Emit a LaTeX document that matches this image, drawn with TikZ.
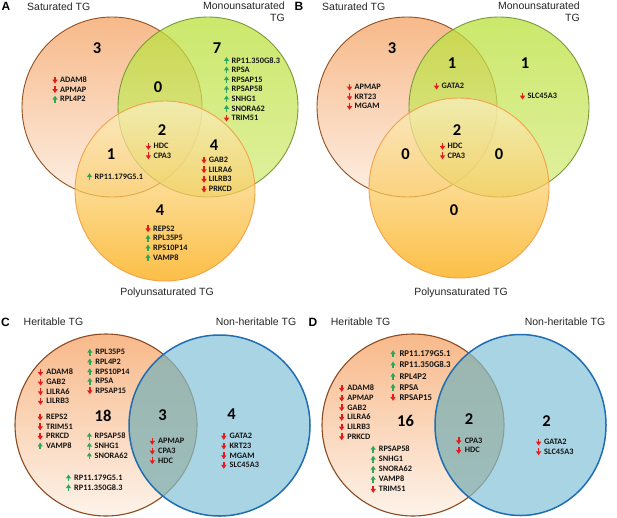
\documentclass[tikz,border=0pt]{standalone}
\usepackage{fontspec}
\setmainfont{Liberation Sans}
\newfontfamily\calfam{Carlito}
\usepackage{tikz}

\definecolor{sattop}{HTML}{F7B98A}
\definecolor{satbot}{HTML}{FDEFE3}
\definecolor{satline}{HTML}{94501F}
\definecolor{monotop}{HTML}{BAE03A}
\definecolor{monobot}{HTML}{D6EB80}
\definecolor{monoline}{HTML}{7A9A3A}
\definecolor{polytop}{HTML}{FBF1C6}
\definecolor{polybot}{HTML}{FBA600}
\definecolor{polyline}{HTML}{F3A24A}
\definecolor{hertop}{HTML}{F8B98A}
\definecolor{herbot}{HTML}{FDF3EA}
\definecolor{herline}{HTML}{8B4A1F}
\definecolor{nonfill}{HTML}{83C2D9}
\definecolor{nonline}{HTML}{1F6DB2}
\definecolor{lenstint}{HTML}{8DA690}
\definecolor{arrred}{HTML}{E31B1B}
\definecolor{arrgreen}{HTML}{2CA65A}
\definecolor{genetext}{HTML}{141414}
\definecolor{titletext}{HTML}{262626}

\tikzset{
  gene/.style={font=\calfam\bfseries\fontsize{8.3}{8.3}\selectfont, anchor=west, inner sep=0pt, text height=5.3pt, text depth=0pt, text=genetext},
  genebig/.style={gene, font=\calfam\bfseries\fontsize{8.8}{8.8}\selectfont, text height=5.7pt},
  count/.style={font=\calfam\bfseries\fontsize{16.5}{16.5}\selectfont, inner sep=0pt, text height=10.4pt, text depth=0pt},
  setname/.style={font=\fontsize{10.5}{10.5}\selectfont, inner sep=0pt, text height=7.6pt, text depth=0pt, text=titletext},
  panel/.style={font=\bfseries\fontsize{12}{12}\selectfont, inner sep=0pt, text height=8.6pt, text depth=0pt},
  vennline/.style={line width=0.9pt},
  dnarr/.pic={
    \fill[arrred] (-0.8,-3.3) rectangle (0.8,0);
    \fill[arrred] (-2.7,-0.4) -- (2.7,-0.4) -- (0,3.5) -- cycle;
  },
  uparr/.pic={
    \fill[arrgreen] (-0.75,3.3) rectangle (0.75,0);
    \fill[arrgreen] (-2.6,0.4) -- (2.6,0.4) -- (0,-3.5) -- cycle;
  },
}

\begin{document}
\begin{tikzpicture}[x=1pt, y=-1pt]
\useasboundingbox (0,0) rectangle (617,517);

% panel A: circles
\coordinate (A-sat) at (112,107);
\coordinate (A-mono) at (208,107);
\coordinate (A-poly) at (165,191);
\shade[top color=sattop, bottom color=satbot] (A-sat) circle (90pt);
\draw[satline, vennline] (A-sat) circle (90pt);
\shade[top color=monotop, bottom color=monobot, fill opacity=0.75] (A-mono) circle (90pt);
\draw[monoline, vennline] (A-mono) circle (90pt);
\shade[top color=polytop, bottom color=polybot, fill opacity=0.72] (A-poly) circle (90pt);
\draw[polyline, vennline] (A-poly) circle (90pt);

% panel A: texts
\node[panel] (A-tag) at (6,6) {A};
\node[setname, anchor=west] (A-satname) at (27,7) {Saturated TG};
\node[setname, anchor=east] (A-mononame) at (285,6) {Monounsaturated};
\node[setname, anchor=east] (A-mononame2) at (285,18) {TG};
\node[setname] (A-polyname) at (167,292) {Polyunsaturated TG};
\node[count] (A-cS) at (97,48) {3};
\node[count] (A-cSM) at (158,87) {0};
\node[count] (A-cM) at (217,48) {7};
\node[count] (A-cSMP) at (162,130) {2};
\node[count] (A-cSP) at (111,154) {1};
\node[count] (A-cMP) at (214,145) {4};
\node[count] (A-cP) at (160,210) {4};
\pic at (55,80) {dnarr}; \node[gene] (A-adam8) at (60,80) {ADAM8};
\pic at (55,89.5) {dnarr}; \node[gene] (A-apmap) at (60,89.5) {APMAP};
\pic at (55,99.2) {uparr}; \node[gene] (A-rpl4p2) at (60,99.2) {RPL4P2};
\pic at (226.5,60.5) {uparr}; \node[gene] (A-rp11350) at (231.5,60.5) {RP11.350G8.3};
\pic at (226.5,70) {uparr}; \node[gene] (A-rpsa) at (231.5,70) {RPSA};
\pic at (226.5,79.7) {uparr}; \node[gene] (A-rpsap15) at (231.5,79.7) {RPSAP15};
\pic at (226.5,89.3) {uparr}; \node[gene] (A-rpsap58) at (231.5,89.3) {RPSAP58};
\pic at (226.5,99) {uparr}; \node[gene] (A-snhg1) at (231.5,99) {SNHG1};
\pic at (226.5,108.5) {uparr}; \node[gene] (A-snora62) at (231.5,108.5) {SNORA62};
\pic at (226.5,118) {dnarr}; \node[gene] (A-trim51) at (231.5,118) {TRIM51};
\pic at (148.4,146.3) {dnarr}; \node[gene] (A-hdc) at (153.5,146.3) {HDC};
\pic at (148.4,155.7) {dnarr}; \node[gene] (A-cpa3) at (153.5,155.7) {CPA3};
\pic at (89.5,176.7) {uparr}; \node[gene] (A-rp11179) at (94.5,176.7) {RP11.179G5.1};
\pic at (204,160) {dnarr}; \node[gene] (A-gab2) at (208.7,160) {GAB2};
\pic at (204,169.7) {dnarr}; \node[gene] (A-lilra6) at (208.7,169.7) {LILRA6};
\pic at (204,179.3) {dnarr}; \node[gene] (A-lilrb3) at (208.7,179.3) {LILRB3};
\pic at (204,189) {dnarr}; \node[gene] (A-prkcd) at (208.7,189) {PRKCD};
\pic at (148,228.7) {dnarr}; \node[gene] (A-reps2) at (153,228.7) {REPS2};
\pic at (148,238.3) {uparr}; \node[gene] (A-rpl35p5) at (153,238.3) {RPL35P5};
\pic at (148,248) {uparr}; \node[gene] (A-rps10p14) at (153,248) {RPS10P14};
\pic at (148,257.7) {uparr}; \node[gene] (A-vamp8) at (153,257.7) {VAMP8};

% panel B: circles
\coordinate (B-sat) at (407,107);
\coordinate (B-mono) at (499,107);
\coordinate (B-poly) at (459,188);
\shade[top color=sattop, bottom color=satbot] (B-sat) circle (90pt);
\draw[satline, vennline] (B-sat) circle (90pt);
\shade[top color=monotop, bottom color=monobot, fill opacity=0.75] (B-mono) circle (90pt);
\draw[monoline, vennline] (B-mono) circle (90pt);
\shade[top color=polytop, bottom color=polybot, fill opacity=0.72] (B-poly) circle (90pt);
\draw[polyline, vennline] (B-poly) circle (90pt);

% panel B: texts
\node[panel] (B-tag) at (299,6) {B};
\node[setname, anchor=west] (B-satname) at (322,7) {Saturated TG};
\node[setname, anchor=east] (B-mononame) at (580,6) {Monounsaturated};
\node[setname, anchor=east] (B-mononame2) at (580,18) {TG};
\node[setname] (B-polyname) at (461,292) {Polyunsaturated TG};
\node[count] (B-cS) at (392,48) {3};
\node[count] (B-cSM) at (452,63) {1};
\node[count] (B-cM) at (525,63) {1};
\node[count] (B-cSMP) at (457,130) {2};
\node[count] (B-cSP) at (405.5,154) {0};
\node[count] (B-cMP) at (499,154) {0};
\node[count] (B-cP) at (454,210) {0};
\pic at (349.5,87) {dnarr}; \node[gene] (B-apmap) at (354.5,87) {APMAP};
\pic at (349.5,96.7) {dnarr}; \node[gene] (B-krt23) at (354.5,96.7) {KRT23};
\pic at (349.5,106.3) {dnarr}; \node[gene] (B-mgam) at (354.5,106.3) {MGAM};
\pic at (436.5,86) {dnarr}; \node[gene] (B-gata2) at (441.5,86) {GATA2};
\pic at (522.5,96) {dnarr}; \node[gene] (B-slc45a3) at (527.5,96) {SLC45A3};
\pic at (442.5,146.3) {dnarr}; \node[gene] (B-hdc) at (447.5,146.3) {HDC};
\pic at (442.5,155.7) {dnarr}; \node[gene] (B-cpa3) at (447.5,155.7) {CPA3};

% panel C: circles
\coordinate (C-her) at (106,425);
\coordinate (C-non) at (219.5,425.5);
\shade[top color=hertop, bottom color=herbot] (C-her) circle (91pt);
\draw[herline, line width=1.1pt] (C-her) circle (91pt);
\fill[nonfill, fill opacity=0.7] (C-non) circle (90.5pt);
\begin{scope}
  \clip (C-her) circle (91pt);
  \fill[lenstint, fill opacity=0.4] (C-non) circle (90.5pt);
\end{scope}
\draw[nonline, line width=1.5pt] (C-non) circle (90.5pt);

% panel C: texts
\node[panel] (C-tag) at (5.5,322.5) {C};
\node[setname, anchor=west] (C-hername) at (23.5,322) {Heritable TG};
\node[setname, anchor=east] (C-nonname) at (296.5,322) {Non-heritable TG};
\node[count] (C-cH) at (103,416.7) {18};
\node[count] (C-cHN) at (162.6,415.7) {3};
\node[count] (C-cN) at (231.5,414.3) {4};
\pic at (89.8,352.3) {uparr}; \node[gene] (C-rpl35p5) at (95.2,352.3) {RPL35P5};
\pic at (89.8,362) {uparr}; \node[gene] (C-rpl4p2) at (95.2,362) {RPL4P2};
\pic at (89.8,371.7) {uparr}; \node[gene] (C-rps10p14) at (95.2,371.7) {RPS10P14};
\pic at (89.8,381.3) {uparr}; \node[gene] (C-rpsa) at (95.2,381.3) {RPSA};
\pic at (89.8,390.7) {dnarr}; \node[gene] (C-rpsap15) at (95.2,390.7) {RPSAP15};
\pic at (40.5,372.3) {dnarr}; \node[gene] (C-adam8) at (46.2,372.3) {ADAM8};
\pic at (40.5,382) {dnarr}; \node[gene] (C-gab2) at (46.2,382) {GAB2};
\pic at (40.5,391.7) {dnarr}; \node[gene] (C-lilra6) at (46.2,391.7) {LILRA6};
\pic at (40.5,401.3) {dnarr}; \node[gene] (C-lilrb3) at (46.2,401.3) {LILRB3};
\pic at (40.2,417) {dnarr}; \node[gene] (C-reps2) at (46,417) {REPS2};
\pic at (40.2,426.7) {dnarr}; \node[gene] (C-trim51) at (46,426.7) {TRIM51};
\pic at (40.2,436.3) {dnarr}; \node[gene] (C-prkcd) at (46,436.3) {PRKCD};
\pic at (40.2,446) {uparr}; \node[gene] (C-vamp8) at (46,446) {VAMP8};
\pic at (89.4,436.3) {uparr}; \node[gene] (C-rpsap58) at (94.5,436.3) {RPSAP58};
\pic at (89.4,446.2) {uparr}; \node[gene] (C-snhg1) at (94.5,446.2) {SNHG1};
\pic at (89.4,456) {uparr}; \node[gene] (C-snora62) at (94.5,456) {SNORA62};
\pic at (68.5,478) {uparr}; \node[gene] (C-rp11179) at (74,478) {RP11.179G5.1};
\pic at (68.5,487.7) {uparr}; \node[gene] (C-rp11350) at (74,487.7) {RP11.350G8.3};
\pic at (152.3,441.3) {dnarr}; \node[gene] (C-apmap) at (158,441.3) {APMAP};
\pic at (152.3,451) {dnarr}; \node[gene] (C-cpa3) at (158,451) {CPA3};
\pic at (152.3,460.7) {dnarr}; \node[gene] (C-hdc) at (158,460.7) {HDC};
\pic at (223.8,436.3) {dnarr}; \node[gene] (C-gata2) at (229.5,436.3) {GATA2};
\pic at (223.8,446) {dnarr}; \node[gene] (C-krt23) at (229.5,446) {KRT23};
\pic at (223.8,455.7) {dnarr}; \node[gene] (C-mgam) at (229.5,455.7) {MGAM};
\pic at (223.8,465.3) {dnarr}; \node[gene] (C-slc45a3) at (229.5,465.3) {SLC45A3};

% panel D: circles
\coordinate (D-her) at (413,425);
\coordinate (D-non) at (520.5,425);
\shade[top color=hertop, bottom color=herbot] (D-her) circle (91pt);
\draw[herline, line width=1.1pt] (D-her) circle (91pt);
\fill[nonfill, fill opacity=0.7] (D-non) ellipse (85.5pt and 90.5pt);
\begin{scope}
  \clip (D-her) circle (91pt);
  \fill[lenstint, fill opacity=0.4] (D-non) ellipse (85.5pt and 90.5pt);
\end{scope}
\draw[nonline, line width=1.5pt] (D-non) ellipse (85.5pt and 90.5pt);

% panel D: texts
\node[panel] (D-tag) at (313,321.7) {D};
\node[setname, anchor=west] (D-hername) at (330.7,321.7) {Heritable TG};
\node[setname, anchor=east] (D-nonname) at (605.5,321.7) {Non-heritable TG};
\node[count] (D-cH) at (405.5,421) {16};
\node[count] (D-cHN) at (469,419) {2};
\node[count] (D-cN) at (546.5,421.3) {2};
\pic at (393,353.7) {uparr}; \node[genebig] (D-rp11179) at (399.3,353.7) {RP11.179G5.1};
\pic at (393,365) {uparr}; \node[genebig] (D-rp11350) at (399.3,365) {RP11.350G8.3};
\pic at (393,376.3) {uparr}; \node[genebig] (D-rpl4p2) at (399.3,376.3) {RPL4P2};
\pic at (393,387.3) {uparr}; \node[genebig] (D-rpsa) at (399.3,387.3) {RPSA};
\pic at (393,397.3) {dnarr}; \node[genebig] (D-rpsap15) at (399.3,397.3) {RPSAP15};
\pic at (341.7,388.3) {dnarr}; \node[gene] (D-adam8) at (347.2,388.3) {ADAM8};
\pic at (341.7,398) {dnarr}; \node[gene] (D-apmap) at (347.2,398) {APMAP};
\pic at (341.7,407.7) {dnarr}; \node[gene] (D-gab2) at (347.2,407.7) {GAB2};
\pic at (341.7,417.3) {dnarr}; \node[gene] (D-lilra6) at (347.2,417.3) {LILRA6};
\pic at (341.7,427) {dnarr}; \node[gene] (D-lilrb3) at (347.2,427) {LILRB3};
\pic at (341.7,436.7) {dnarr}; \node[gene] (D-prkcd) at (347.2,436.7) {PRKCD};
\pic at (373.2,449.3) {uparr}; \node[gene] (D-rpsap58) at (378.7,449.3) {RPSAP58};
\pic at (373.2,459.3) {uparr}; \node[gene] (D-snhg1) at (378.7,459.3) {SNHG1};
\pic at (373.2,469.3) {uparr}; \node[gene] (D-snora62) at (378.7,469.3) {SNORA62};
\pic at (373.2,479.3) {uparr}; \node[gene] (D-vamp8) at (378.7,479.3) {VAMP8};
\pic at (373.2,489.3) {dnarr}; \node[gene] (D-trim51) at (378.7,489.3) {TRIM51};
\pic at (458.7,440.7) {dnarr}; \node[gene] (D-cpa3) at (464.6,440.7) {CPA3};
\pic at (458.7,450.3) {dnarr}; \node[gene] (D-hdc) at (464.6,450.3) {HDC};
\pic at (538.6,442) {dnarr}; \node[gene] (D-gata2) at (544,442) {GATA2};
\pic at (538.6,451.7) {dnarr}; \node[gene] (D-slc45a3) at (544,451.7) {SLC45A3};

\end{tikzpicture}
\end{document}
